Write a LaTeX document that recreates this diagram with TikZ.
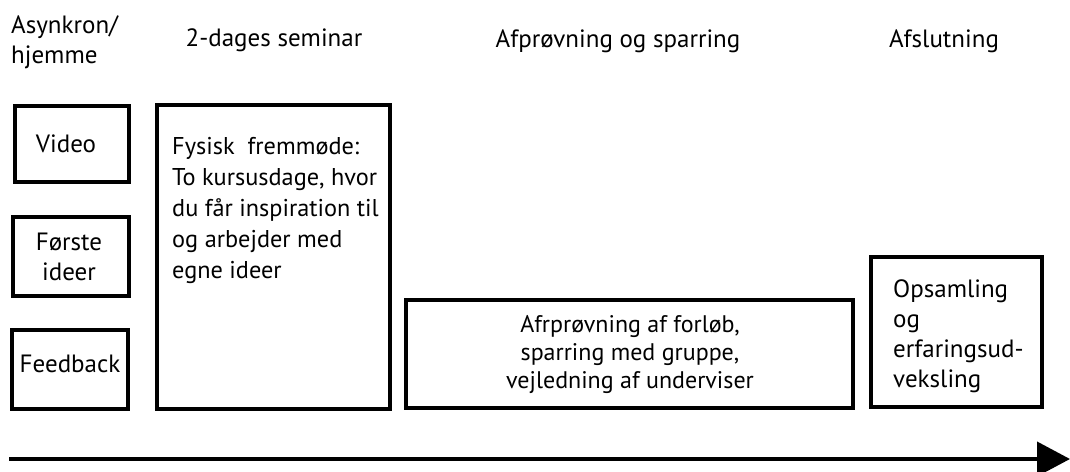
\documentclass[tikz,border=0pt]{standalone}
\usepackage{fontspec}
\setmainfont{PT Sans}
\usetikzlibrary{arrows.meta}
\tikzset{
  box/.style={draw=black, line width=4pt, inner sep=0pt, fill=none},
  txt/.style={inner sep=0pt, font=\fontsize{25}{31}\selectfont, text=black},
  ctxt/.style={txt, align=center},
  ltxt/.style={txt, align=left},
}
\begin{document}
\begin{tikzpicture}[x=1pt,y=-1pt]
\useasboundingbox[fill=white] (0,0) rectangle (1070,471);
% headers
\node[ltxt, anchor=north west] (hA) at (11,15) {Asynkron/\\[-1pt]hjemme};
\node[txt, anchor=base] (hB) at (274,46) {2-dages seminar};
\node[txt, anchor=base] (hC) at (618,47) {Afprøvning og sparring};
\node[txt, anchor=base] (hD) at (944,47) {Afslutning};
% boxes
\node[box, minimum width=114pt, minimum height=76pt] (video) at (72,144) {};
\node[box, minimum width=116pt, minimum height=79pt] (forste) at (71,256.5) {};
\node[box, minimum width=116pt, minimum height=79pt] (feedback) at (70,369.5) {};
\node[box, minimum width=233pt, minimum height=304pt] (seminar) at (273.5,257) {};
\node[box, minimum width=447pt, minimum height=108pt] (afpr) at (629.5,354) {};
\node[box, minimum width=171pt, minimum height=150pt] (afsl) at (956.5,332) {};
% texts in boxes
\node[txt, anchor=base] (tvideo) at (66,152) {Video};
\node[ctxt, anchor=north] (tforste) at (69,232.5) {Første\\[-1pt]ideer};
\node[txt, anchor=base] (tfeed) at (70,372) {Feedback};
\node[ltxt, anchor=north west, font=\fontsize{24.3}{31}\selectfont] (tsem) at (172,137.5) {Fysisk\ \ fremmøde:\\To kursusdage, hvor\\du får inspiration til\\og arbejder med\\egne ideer};
\node[ctxt, anchor=north, font=\fontsize{24}{28}\selectfont] (tafpr) at (630,315) {Afrprøvning af forløb,\\sparring med gruppe,\\vejledning af underviser};
\node[ltxt, anchor=north west] (tafsl) at (893,279.5) {Opsamling\\[-1pt]og\\[-1pt]erfaringsud-\\[-1pt]veksling};
% arrow
\coordinate (aS) at (9,459);
\coordinate (aE) at (1070,459);
\draw[line width=4pt, -{Triangle[length=33pt,width=34pt]}] (aS) -- (aE);
\end{tikzpicture}
\end{document}
